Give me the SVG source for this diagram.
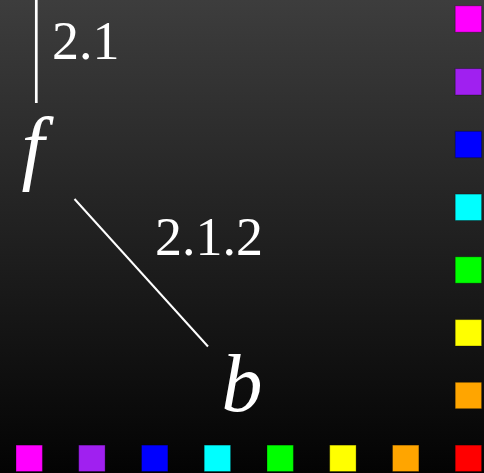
<svg xmlns="http://www.w3.org/2000/svg" width="484" height="473" viewBox="0 0 484 473">
<defs>
<linearGradient id="bg" x1="0" y1="0" x2="0" y2="1">
<stop offset="0" stop-color="#3d3d3d"/>
<stop offset="1" stop-color="#030303"/>
</linearGradient>
</defs>
<style>
.lbl{font-size:54px;fill:#fff}
.node{font-style:italic;font-size:82px;fill:#fff}
.edge{stroke:#fff;fill:none}
.sq{stroke:#000;stroke-opacity:0.3;stroke-width:1}
</style>
<rect width="484" height="473" fill="url(#bg)"/>
<g id="connectors">
<line class="edge" x1="36.3" y1="0" x2="36.3" y2="103" stroke-width="2.7"/>
<line class="edge" x1="74.5" y1="199" x2="208" y2="346.5" stroke-width="2"/>
</g>
<g id="label-2.1"><text class="lbl" font-family="Liberation Serif, 'Times New Roman', serif" x="52" y="59">2.1</text></g>
<g id="label-2.1.2"><text class="lbl" font-family="Liberation Serif, 'Times New Roman', serif" x="155" y="255">2.1.2</text></g>
<g id="node-f"><text class="node" font-family="Liberation Serif, 'Times New Roman', serif" x="33" y="174" text-anchor="middle">f</text></g>
<g id="node-b"><text class="node" font-family="Liberation Serif, 'Times New Roman', serif" x="242" y="411" text-anchor="middle">b</text></g>
<g id="legend">
<rect class="sq" x="455.2" y="5.8" width="26.4" height="26.4" fill="#ff00ff"/>
<rect class="sq" x="455.2" y="68.6" width="26.4" height="26.4" fill="#a020f0"/>
<rect class="sq" x="455.2" y="131.3" width="26.4" height="26.4" fill="#0000ff"/>
<rect class="sq" x="455.2" y="194.1" width="26.4" height="26.4" fill="#00ffff"/>
<rect class="sq" x="455.2" y="256.8" width="26.4" height="26.4" fill="#00ff00"/>
<rect class="sq" x="455.2" y="319.6" width="26.4" height="26.4" fill="#ffff00"/>
<rect class="sq" x="455.2" y="382.3" width="26.4" height="26.4" fill="#ffa500"/>
<rect class="sq" x="455.2" y="445.1" width="26.4" height="26.4" fill="#ff0000"/>
<rect class="sq" x="16" y="445.1" width="26.4" height="26.4" fill="#ff00ff"/>
<rect class="sq" x="78.7" y="445.1" width="26.4" height="26.4" fill="#a020f0"/>
<rect class="sq" x="141.5" y="445.1" width="26.4" height="26.4" fill="#0000ff"/>
<rect class="sq" x="204.2" y="445.1" width="26.4" height="26.4" fill="#00ffff"/>
<rect class="sq" x="267" y="445.1" width="26.4" height="26.4" fill="#00ff00"/>
<rect class="sq" x="329.7" y="445.1" width="26.4" height="26.4" fill="#ffff00"/>
<rect class="sq" x="392.5" y="445.1" width="26.4" height="26.4" fill="#ffa500"/>
</g>
</svg>
